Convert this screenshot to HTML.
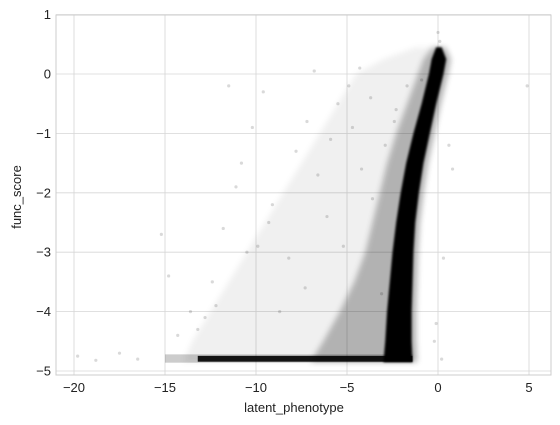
<!DOCTYPE html>
<html><head><meta charset="utf-8"><style>
body{margin:0;background:#fff;}
svg{display:block;font-family:"Liberation Sans","DejaVu Sans",sans-serif;}
</style></head><body>
<svg id="chart" width="560" height="425" viewBox="0 0 560 425">
<defs><filter id="blur" x="-20%" y="-20%" width="140%" height="140%"><feGaussianBlur stdDeviation="3"/></filter>
<filter id="blur1" x="-20%" y="-20%" width="140%" height="140%"><feGaussianBlur stdDeviation="1"/></filter></defs>
</svg>
<script>
// ---- data ----
const xTicks = [-20,-15,-10,-5,0,5];
const yTicks = [1,0,-1,-2,-3,-4,-5];
const bandY = [0.45,0.25,0,-0.5,-1,-1.5,-2,-2.5,-3,-3.5,-4,-4.5,-4.85];
const coreLeft = [-0.1,-0.35,-0.5,-0.9,-1.35,-1.75,-2.05,-2.3,-2.5,-2.65,-2.8,-2.9,-3.0];
const coreRight = [0.2,0.45,0.3,-0.1,-0.45,-0.8,-1.05,-1.25,-1.35,-1.4,-1.45,-1.45,-1.4];
const hazeLeft = [-0.3,-0.8,-1.1,-1.7,-2.3,-2.8,-3.2,-3.6,-4.0,-4.6,-5.4,-6.3,-7.0];
const hazeRight = [0.4,0.7,0.55,0.15,-0.2,-0.55,-0.8,-1.0,-1.1,-1.15,-1.2,-1.2,-1.15];
const sparseLeft = [-1.2,-3.0,-4.5,-5.5,-6.5,-7.5,-8.5,-9.5,-10.5,-11.5,-12.5,-13.5,-14.0];
const floorY = [-4.72,-4.86];
const floorX = [-15,-1.4];
const floorDenseX = [-13.2,-1.4];
const ptsX = [-19.8,-18.8,-17.5,-16.5,-15.2,-14.8,-13.2,-12.4,-11.8,-11.1,-10.2,-9.6,-11.5,-10.8,-9.9,-9.1,-12.2,-8.2,-7.8,-7.2,-6.6,-6.1,-5.5,-4.9,-4.3,-3.7,-6.8,-5.9,-4.7,-4.2,-3.6,-2.9,-2.3,-1.7,-0.9,0.6,0.8,0.3,4.9,-0.2,0.2,-0.1,-8.7,-7.3,-13.6,-14.3,-5.2,-3.1,-2.4,-9.3,-10.5,-12.8,0.0,0.1];
const ptsY = [-4.75,-4.82,-4.7,-4.8,-2.7,-3.4,-4.3,-3.5,-2.6,-1.9,-0.9,-0.3,-0.2,-1.5,-2.9,-2.2,-3.9,-3.1,-1.3,-0.8,-1.7,-2.4,-0.5,-0.2,0.1,-0.4,0.05,-1.1,-0.9,-1.6,-2.1,-1.2,-0.6,-0.2,-0.1,-1.2,-1.6,-3.1,-0.2,-4.5,-4.8,-4.2,-4.0,-3.6,-4.0,-4.4,-2.9,-3.7,-0.8,-2.5,-3.0,-4.1,0.7,0.55];

// ---- axes ----
const X0=56,X1=551,Y0=15,Y1=375;
const xs = v => 438 + v*18.2;
const ys = v => 74 - v*59.4;
const svg = document.getElementById('chart');
const NS='http://www.w3.org/2000/svg';
function mk(tag, attrs, parent){const e=document.createElementNS(NS,tag);for(const k in attrs)e.setAttribute(k,attrs[k]);(parent||svg).appendChild(e);return e;}

const grid = mk('g',{});


xTicks.forEach(t=>{mk('line',{x1:xs(t),x2:xs(t),y1:Y0,y2:Y1,stroke:'#d6d6d6','stroke-width':0.8},grid);});
yTicks.forEach(t=>{mk('line',{x1:X0,x2:X1,y1:ys(t),y2:ys(t),stroke:'#d6d6d6','stroke-width':0.8},grid);});

function band(L,R,op,name,filt){
  let d='M'+bandY.map((y,i)=>xs(L[i])+','+ys(y)).join(' L');
  d+=' L'+bandY.map((y,i)=>xs(R[i])+','+ys(y)).reverse().join(' L')+' Z';
  const p=mk('path',{d:d,fill:'#000','fill-opacity':op});
  if(filt)p.setAttribute('filter',filt);
  
  
}
band(sparseLeft,hazeRight,0.06,'sparse-cloud','url(#blur)');
band(hazeLeft,hazeRight,0.26,'haze-cloud','url(#blur)');
band(coreLeft,coreRight,1,'dense-core','url(#blur1)');

const fl=mk('rect',{x:xs(floorX[0]),y:ys(floorY[0]),width:xs(floorX[1])-xs(floorX[0]),height:ys(floorY[1])-ys(floorY[0]),fill:'#000','fill-opacity':0.2});


const fd=mk('rect',{x:xs(floorDenseX[0]),y:ys(floorY[0])+1.5,width:xs(floorDenseX[1])-xs(floorDenseX[0]),height:ys(floorY[1])-ys(floorY[0])-2.5,fill:'#000','fill-opacity':0.9});



ptsX.forEach((x,i)=>{
  const c=mk('circle',{cx:xs(x),cy:ys(ptsY[i]),r:1.6,fill:'#000','fill-opacity':0.15});
  
  
});

const frame=mk('rect',{x:X0,y:Y0,width:X1-X0,height:Y1-Y0,fill:'none',stroke:'#cccccc','stroke-width':1});



xTicks.forEach(t=>{
  const tx=mk('text',{x:xs(t),y:392,'text-anchor':'middle','font-size':13,fill:'#222'});
  tx.textContent=t<0?'\u2212'+(-t):t;
  
  
});
yTicks.forEach(t=>{
  const tx=mk('text',{x:51,y:ys(t)+4.5,'text-anchor':'end','font-size':13,fill:'#222'});
  tx.textContent=t<0?'\u2212'+(-t):t;
  
  
});
const xl=mk('text',{x:294,y:412,'text-anchor':'middle','font-size':13,fill:'#222'});
xl.textContent='latent_phenotype';


const yl=mk('text',{x:21,y:197,'text-anchor':'middle','font-size':13,fill:'#222',transform:'rotate(-90 21 197)'});
yl.textContent='func_score';


</script>
</body></html>
